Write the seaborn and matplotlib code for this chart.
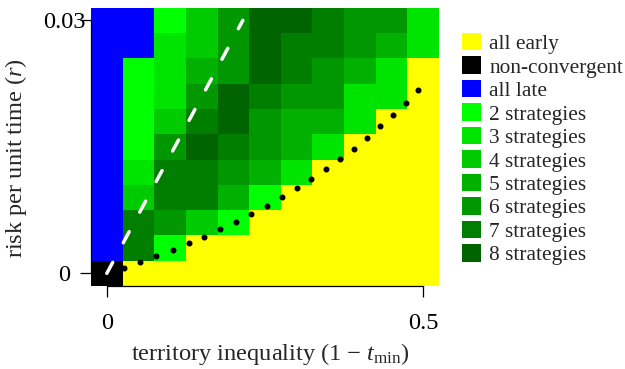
import numpy as np
import pandas as pd
import matplotlib
matplotlib.use("Agg")
import matplotlib.pyplot as plt
from matplotlib.colors import ListedColormap
from matplotlib.patches import Patch
import seaborn as sns

sns.set_style("white")
plt.rcParams['font.family'] = ['Liberation Serif', 'DejaVu Serif']
plt.rcParams['mathtext.fontset'] = 'custom'
plt.rcParams['mathtext.rm'] = 'Liberation Serif'
plt.rcParams['mathtext.it'] = 'Liberation Serif:italic'

# ---- data ----
inequality = [0.0, 0.05, 0.1, 0.15, 0.2, 0.25, 0.3, 0.35, 0.4, 0.45, 0.5]
risk = [0.0, 0.003, 0.006, 0.009, 0.012, 0.015, 0.018, 0.021, 0.024, 0.027, 0.03]

# codes: 'E' all early, 'N' non-convergent, 'L' all late, 2..8 strategies
# rows from r = 0 (first) to r = 0.03 (last)
outcome = [
    ['N', 'E', 'E', 'E', 'E', 'E', 'E', 'E', 'E', 'E', 'E'],
    ['L', 7, 2, 'E', 'E', 'E', 'E', 'E', 'E', 'E', 'E'],
    ['L', 7, 6, 4, 2, 'E', 'E', 'E', 'E', 'E', 'E'],
    ['L', 4, 7, 7, 5, 2, 'E', 'E', 'E', 'E', 'E'],
    ['L', 3, 7, 7, 6, 5, 3, 'E', 'E', 'E', 'E'],
    ['L', 2, 6, 8, 7, 6, 5, 3, 'E', 'E', 'E'],
    ['L', 2, 4, 7, 8, 6, 5, 5, 3, 'E', 'E'],
    ['L', 2, 3, 6, 8, 7, 6, 6, 3, 3, 'E'],
    ['L', 2, 3, 5, 6, 8, 7, 6, 5, 3, 'E'],
    ['L', 'L', 3, 4, 6, 8, 7, 7, 6, 5, 3],
    ['L', 'L', 2, 4, 6, 8, 8, 7, 6, 6, 3],
]

categories = ['E', 'N', 'L', 2, 3, 4, 5, 6, 7, 8]
category_labels = ['all early', 'non-convergent', 'all late',
                   '2 strategies', '3 strategies', '4 strategies',
                   '5 strategies', '6 strategies', '7 strategies',
                   '8 strategies']
category_colors = ['#FFFF00', '#000000', '#0000FF',
                   '#00FF00', '#00E500', '#00CB00', '#00B100',
                   '#009700', '#007E00', '#006400']

# dotted boundary curve
curve_x = [0.0, 0.0269, 0.0522, 0.0780, 0.1040, 0.1293, 0.1540, 0.1793,
           0.2041, 0.2283, 0.2527, 0.2769, 0.3002, 0.3233, 0.3460, 0.3682,
           0.3904, 0.4119, 0.4325, 0.4530, 0.4726, 0.4916]
curve_y = [0.0, 0.00068, 0.00131, 0.00202, 0.00273, 0.00357, 0.00436,
           0.00523, 0.00610, 0.00705, 0.00800, 0.00904, 0.01007, 0.01118,
           0.01233, 0.01356, 0.01478, 0.01609, 0.01744, 0.01879, 0.02025,
           0.02172]

# dashed straight line
line_x = [0.0, 0.215]
line_y = [0.0, 0.03]

# ---- figure ----
W, H = 625, 369
FS = 15.4     # legend
AFS = 17.6    # axis text
fig = plt.figure(figsize=(W / 100, H / 100), dpi=100)
rect = [91 / W, 1 - 286 / H, 348 / W, (286 - 7.7) / H]
ax = fig.add_axes(rect)

idx = {c: i for i, c in enumerate(categories)}
mat = np.array([[idx[v] for v in row] for row in outcome])[::-1]
df = pd.DataFrame(mat, index=risk[::-1], columns=inequality)
cmap = ListedColormap(category_colors)
sns.heatmap(df, ax=ax, cmap=cmap, vmin=-0.5, vmax=len(categories) - 0.5,
            cbar=False, xticklabels=False, yticklabels=False)
ax.set_xlabel('')
ax.set_ylabel('')
ax.tick_params(left=False, bottom=False)

dx = inequality[1] - inequality[0]
dy = risk[1] - risk[0]
ov = fig.add_axes(rect)
ov.patch.set_alpha(0)
ov.set_xlim(inequality[0] - dx / 2, inequality[-1] + dx / 2)
ov.set_ylim(risk[0] - dy / 2, risk[-1] + dy / 2)

ov.plot(curve_x, curve_y, 'o', color='black', ms=3.3, zorder=3)
ov.plot(line_x, line_y, color='white', lw=2.5, ls=(0, (3.6, 6.4)),
        dash_capstyle='round', zorder=4)

for s in ['top', 'right']:
    ov.spines[s].set_visible(False)
for s in ['left', 'bottom']:
    ov.spines[s].set_visible(True)
    ov.spines[s].set_color('black')
    ov.spines[s].set_linewidth(0.9)
ov.spines['left'].set_bounds(0, 0.03)
ov.spines['bottom'].set_bounds(0, 0.5)

ov.set_xticks([0, 0.5])
ov.set_xticklabels(['0', '0.5'])
ov.set_yticks([0, 0.03])
ov.set_yticklabels(['0', '0.03'])
ov.tick_params(axis='both', direction='out', length=8, width=0.9,
               labelsize=AFS, colors='black', left=True, bottom=True)
ov.tick_params(axis='x', pad=11.5)
ov.tick_params(axis='y', pad=11.5)
for t in ov.get_yticklabels():
    t.set_horizontalalignment('center')

fig.text(270 / W, 1 - 360 / H, 'territory inequality (1 − $t_{\\mathrm{min}}$)',
         fontsize=AFS, ha='center', va='baseline')
fig.text(16 / W, 1 - 158 / H, 'risk per unit time ($r$)',
         fontsize=AFS, ha='center', va='center', rotation=90)

handles = [Patch(facecolor=c, edgecolor='none') for c in category_colors]
fig.legend(handles, category_labels, loc='upper left',
           bbox_to_anchor=(462 / W, 1 - 33 / H), frameon=False,
           fontsize=FS, handlelength=0.88, handleheight=0.88,
           handletextpad=0.4, labelspacing=0.11, borderpad=0,
           borderaxespad=0)

fig.savefig('out.png', dpi=100)
